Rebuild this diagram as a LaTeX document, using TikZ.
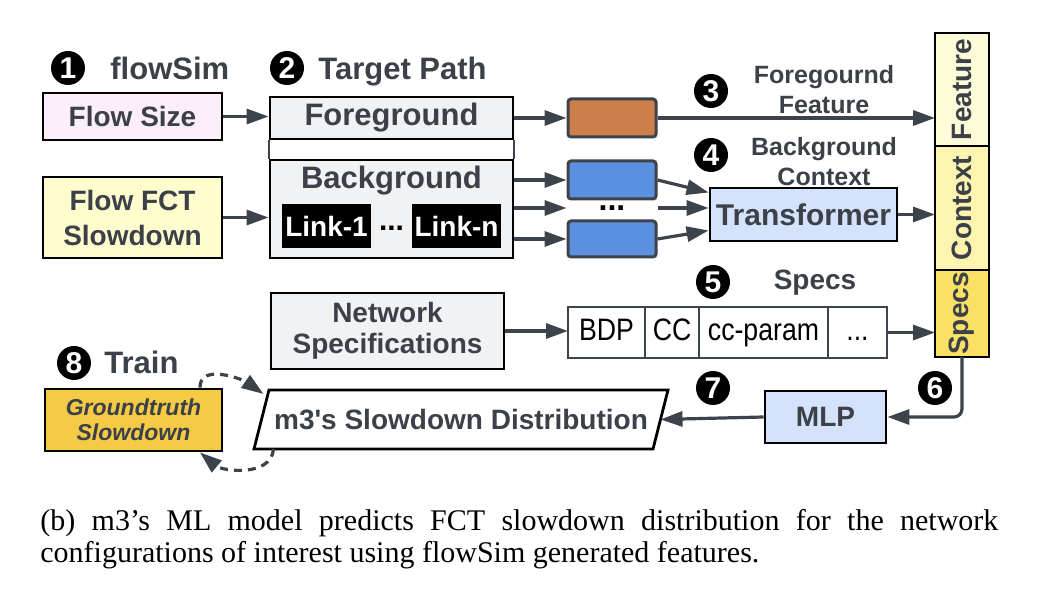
\documentclass[tikz,border=0pt]{standalone}
\usepackage{fontspec}
\setmainfont{Liberation Serif}
\newfontfamily\diagsf{Liberation Sans}
\newfontfamily\narrowsf[FakeStretch=0.86]{Liberation Sans}
\usepackage{xcolor}
\usepackage{tikz}
\usetikzlibrary{arrows.meta,positioning}
\definecolor{ink}{HTML}{3B4049}
\definecolor{wire}{HTML}{3D434B}
\definecolor{pinkbg}{HTML}{FCEFFA}
\definecolor{creambg}{HTML}{FFFCCD}
\definecolor{greybg}{HTML}{F1F2F4}
\definecolor{fgorange}{HTML}{CC7F4B}
\definecolor{bgblue}{HTML}{5B8FE0}
\definecolor{lightblue}{HTML}{D4E3FB}
\definecolor{featbg}{HTML}{FEFCD8}
\definecolor{ctxbg}{HTML}{FDF5AF}
\definecolor{specbg}{HTML}{FAE064}
\definecolor{gold}{HTML}{F5CB45}
\newcommand{\fsz}[2]{\fontsize{#1}{#2}\selectfont}

\begin{document}
\begin{tikzpicture}[x=0.5pt,y=-0.5pt,
  box/.style={draw=black,line width=1.4pt,text=ink,font=\diagsf\bfseries\fsz{14}{16},align=center,inner sep=0pt},
  chip/.style={draw=wire,line width=1.5pt,rounded corners=1.5pt,minimum width=44pt,minimum height=19pt,inner sep=0pt},
  cell/.style={draw=wire,line width=1.3pt,minimum height=25.5pt,text height=11pt,text depth=3pt,inner sep=0pt,outer sep=0pt,font=\narrowsf\fsz{15.5}{16}},
  col/.style={draw=black,line width=1.3pt,minimum width=27pt,inner sep=0pt,outer sep=0pt,text=ink,font=\diagsf\bfseries\fsz{14}{16}},
  numdot/.style={circle,fill=black,text=white,minimum size=17pt,inner sep=0pt,font=\diagsf\bfseries\fsz{15}{15}},
  head/.style={text=ink,inner sep=0pt,font=\diagsf\bfseries\fsz{15.5}{17}},
  note/.style={text=ink,align=center,inner sep=0pt,font=\diagsf\bfseries\fsz{12.5}{15}},
  link/.style={fill=black,text=white,minimum width=44.5pt,minimum height=22pt,inner sep=0pt,font=\diagsf\bfseries\fsz{14}{16}},
  feed/.style={draw=wire,line width=1.6pt,-{Triangle[length=11pt,width=7.5pt]}},
  dashfeed/.style={feed,dash pattern=on 4pt off 3pt},
]
\useasboundingbox (0,0) rectangle (1054,608);

\foreach \n/\x/\y in {1/68/68,2/287/68,3/711/91,4/711/155,5/713/282,6/935/388,7/713/388,8/74/363}
  \node[numdot] (n\n) at (\x,\y) {\n};
\node[head,anchor=base west] (simtitle) at (110,80) {flowSim};
\node[head,anchor=base west] (pathtitle) at (318,80) {Target Path};
\node[head,anchor=base west] (traintitle) at (104,374) {Train};

\node[box,fill=pinkbg,minimum width=89.5pt,minimum height=23.5pt] (flowsize) at (132.5,116.5) {Flow Size};
\node[box,fill=creambg,minimum width=89.5pt,minimum height=40.5pt,font=\diagsf\bfseries\fsz{14}{17.5}] (fct) at (132.5,217.5) {Flow FCT\\Slowdown};

\node[box,fill=greybg,minimum width=121.5pt,minimum height=21pt,font=\diagsf\bfseries\fsz{15.5}{17}] (fg) at (391.5,118) {Foreground};
\node[box,fill=greybg,minimum width=121.5pt,minimum height=49pt] (bg) at (391.5,209) {};
\draw[wire,line width=1pt] (fg.south west) -- (bg.north west) (fg.south east) -- (bg.north east);
\node[head] (bgtitle) at (391.5,181) {Background};
\node[link] (link1) at (326.5,226) {Link-1};
\node[link] (linkn) at (456.5,226) {Link-n};
\node[inner sep=0pt,font=\diagsf\bfseries\fsz{15}{15}] (linkdots) at (391.5,228) {...};

\node[chip,fill=fgorange] (fgchip) at (612,118) {};
\node[chip,fill=bgblue] (bgchip1) at (612,180) {};
\node[chip,fill=bgblue,minimum height=18pt] (bgchip2) at (612,239) {};
\node[inner sep=0pt,font=\diagsf\bfseries\fsz{16}{16}] (chipdots) at (612,208) {...};

\node[box,fill=lightblue,minimum width=93.5pt,minimum height=26.5pt,font=\diagsf\bfseries\fsz{15}{17}] (transformer) at (803.5,214.5) {Transformer};

\node[col,fill=featbg,minimum height=56.5pt] (feature) at (962,89.5) {\rotatebox{90}{Feature}};
\node[col,fill=ctxbg,minimum height=62pt,below=0pt of feature] (context) {\rotatebox{90}{Context}};
\node[col,fill=specbg,minimum height=43.5pt,below=0pt of context] (specs) {\rotatebox{90}{Specs}};

\node[note] (fglabel) at (824,90) {Foregournd\\Feature};
\node[note] (bglabel) at (824,162) {Background\\Context};
\node[head,font=\diagsf\bfseries\fsz{14}{16}] (specslabel) at (815,283) {Specs};

\node[box,fill=greybg,minimum width=116.5pt,minimum height=38pt,font=\diagsf\bfseries\fsz{14}{15.5}] (netspec) at (387.5,331) {Network\\Specifications};
\node[cell,minimum width=38.5pt] (bdp) at (606.5,332.5) {BDP};
\node[cell,minimum width=27pt,right=0pt of bdp] (cc) {CC};
\node[cell,minimum width=64.5pt,right=0pt of cc] (ccparam) {cc-param};
\node[cell,minimum width=29.5pt,right=0pt of ccparam] (more) {...};

\node[box,fill=gold,minimum width=88.5pt,minimum height=31pt,font=\diagsf\bfseries\itshape\fsz{11.5}{12.5}] (truth) at (133.5,420) {Groundtruth\\Slowdown};
\node[box,draw=none,outer sep=0pt,minimum width=199.5pt,minimum height=29.5pt] (dist) at (461,419.5) {m3's Slowdown Distribution};
\draw[black,line width=1.4pt,line join=miter] ([xshift=-3.75pt]dist.south west) -- ([xshift=3.75pt]dist.north west)
  -- ([xshift=3.75pt]dist.north east) -- ([xshift=-3.75pt]dist.south east) -- cycle;
\node[box,fill=lightblue,minimum width=60.5pt,minimum height=26pt] (mlp) at (825.5,417) {MLP};

\draw[feed] (flowsize.east) -- (flowsize.east -| fg.west);
\draw[feed] (fct.east) -- (fct.east -| bg.west);
\draw[feed] (fg.east) -- (fgchip.west);
\draw[feed] (bg.east |- bgchip1.west) -- (bgchip1.west);
\draw[feed] (bg.east |- chipdots) -- (chipdots -| bgchip1.west);
\draw[feed] (bg.east |- bgchip2.west) -- (bgchip2.west);
\draw[feed] (bgchip1.east) -- ([yshift=11pt]transformer.west);
\draw[feed] (chipdots -| bgchip1.east) -- (chipdots -| transformer.west);
\draw[feed] (bgchip2.east) -- ([yshift=-8pt]transformer.west);
\draw[feed] (fgchip.east) -- (fgchip.east -| feature.west);
\draw[feed] (transformer.east) -- (transformer.east -| context.west);
\draw[feed] (netspec.east) -- (netspec.east -| bdp.west);
\draw[feed] (more.east) -- (more.east -| specs.west);
\draw[feed,rounded corners=4pt] (specs.south) |- (mlp.east);
\draw[feed] (mlp.west) -- (dist.east);
\draw[dashfeed] (truth.26) to[out=90,in=145] ([xshift=1pt,yshift=-2pt]dist.north west);
\draw[dashfeed] ([xshift=6pt]dist.south west) to[out=-95,in=-40] (truth.-26);

\node[anchor=north west,inner sep=0pt,text width=479pt,align=justify,font=\fsz{15}{16}] (caption) at (40,509) {(b) m3's ML model predicts FCT slowdown distribution for the network\linebreak configurations of interest using flowSim generated features.};
\end{tikzpicture}
\end{document}
